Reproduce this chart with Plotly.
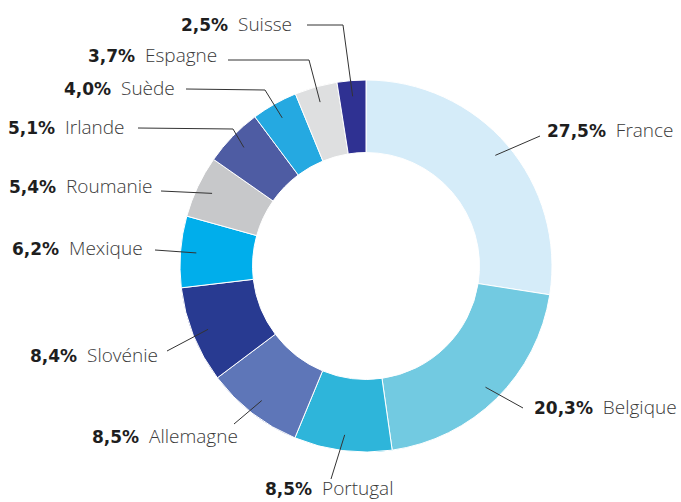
import math
import plotly.graph_objects as go

countries = ["France", "Belgique", "Portugal", "Allemagne", "Slovénie", "Mexique",
             "Roumanie", "Irlande", "Suède", "Espagne", "Suisse"]
shares = [27.5, 20.3, 8.5, 8.5, 8.4, 6.2, 5.4, 5.1, 4.0, 3.7, 2.5]
share_labels = ["27,5%", "20,3%", "8,5%", "8,5%", "8,4%", "6,2%",
                "5,4%", "5,1%", "4,0%", "3,7%", "2,5%"]
colors = ["#D5ECF9", "#72CAE1", "#2EB5DA", "#5E76B8", "#283A91", "#00AEEB",
          "#C7C8CA", "#4E5CA3", "#25A9E1", "#DEDFE0", "#2F3192"]

W, H = 681, 502
CX, CY, R = 366, 266, 186  # pixel centre / radius of the donut
HOLE = 0.61

# label layout (pixel positions): text anchor x, text y, side, elbow point (or None), line start
label_layout = {
    "France":    dict(tx=545, ty=130, side="left",  start=(540, 136), elbow=None),
    "Belgique":  dict(tx=532, ty=407, side="left",  start=(523, 408), elbow=None),
    "Portugal":  dict(tx=263, ty=488, side="left",  start=(331, 479), elbow=None),
    "Allemagne": dict(tx=240, ty=436, side="right", start=(234, 424), elbow=None),
    "Slovénie":  dict(tx=160, ty=355, side="right", start=(167, 351), elbow=None),
    "Mexique":   dict(tx=145, ty=248, side="right", start=(155, 250), elbow=None),
    "Roumanie":  dict(tx=154, ty=186, side="right", start=(161, 191), elbow=None),
    "Irlande":   dict(tx=127, ty=127, side="right", start=(138, 128), elbow=(233, 129)),
    "Suède":     dict(tx=177, ty=88,  side="right", start=(186, 89),  elbow=(265, 90)),
    "Espagne":   dict(tx=219, ty=55,  side="right", start=(228, 60),  elbow=(309, 60)),
    "Suisse":    dict(tx=294, ty=24,  side="right", start=(307, 25),  elbow=(343, 25)),
}

def px(x):
    return x / W

def py(y):
    return 1 - y / H

fig = go.Figure(go.Pie(
    labels=countries, values=shares, sort=False, direction="clockwise", rotation=0,
    hole=HOLE, marker=dict(colors=colors, line=dict(color="white", width=1)),
    textinfo="none", hoverinfo="skip",
    domain=dict(x=[px(CX - R), px(CX + R)], y=[py(CY + R), py(CY - R)]),
    showlegend=False,
))

total = sum(shares)
cum = 0.0
shapes = []
annotations = []
line_style = dict(color="#333333", width=1)
num_style = "font-family:'DejaVu Sans';font-weight:700;color:#1e1e1e;font-size:17px"
for name, val, lab in zip(countries, shares, share_labels):
    mid = (cum + val / 2) / total * 2 * math.pi
    cum += val
    ar = 0.915 * R
    ax_ = CX + ar * math.sin(mid)
    ay_ = CY - ar * math.cos(mid)
    L = label_layout[name]
    pts = [L["start"]]
    if L["elbow"]:
        pts.append(L["elbow"])
    pts.append((ax_, ay_))
    for (x0, y0), (x1, y1) in zip(pts[:-1], pts[1:]):
        shapes.append(dict(type="line", xref="paper", yref="paper",
                           x0=px(x0), y0=py(y0), x1=px(x1), y1=py(y1), line=line_style))
    annotations.append(dict(
        x=px(L["tx"]), y=py(L["ty"]), xref="paper", yref="paper",
        xanchor="left" if L["side"] == "left" else "right", yanchor="middle",
        showarrow=False,
        text=f"<span style=\"{num_style}\">{lab}</span>\u00a0 {name}",
        font=dict(family="Open Sans", size=19, color="#3a3a3a", weight=300),
    ))

fig.update_layout(
    width=W, height=H, margin=dict(l=0, r=0, t=0, b=0),
    paper_bgcolor="white", plot_bgcolor="white",
    shapes=shapes, annotations=annotations,
)
fig.write_html("out.html")
